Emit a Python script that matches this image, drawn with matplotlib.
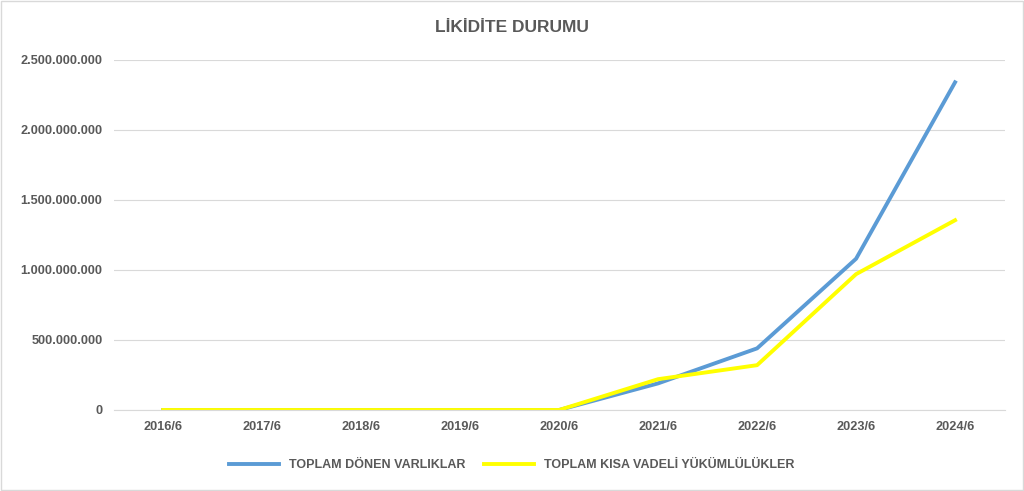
import matplotlib
matplotlib.use("Agg")
import matplotlib.pyplot as plt
from matplotlib.ticker import FuncFormatter

categories = ["2016/6","2017/6","2018/6","2019/6","2020/6","2021/6","2022/6","2023/6","2024/6"]
donen = [0,0,0,0,0,190e6,440e6,1080e6,2340e6]
kisa = [0,0,0,0,0,220e6,320e6,970e6,1355e6]

plt.rcParams['font.family'] = ['Liberation Sans','DejaVu Sans']
fig = plt.figure(figsize=(10.24,4.91), dpi=100)
ax = fig.add_axes([0.111,0.165,0.870,0.713])
x = range(len(categories))
ax.plot(x, donen, color="#5b9bd5", lw=2.8, label="TOPLAM DÖNEN VARLIKLAR")
ax.plot(x, kisa, color="#ffff00", lw=2.8, label="TOPLAM KISA VADELİ YÜKÜMLÜLÜKLER")
ax.set_xlim(-0.5, len(categories)-0.5)
ax.set_ylim(0, 2.5e9)
ax.set_yticks([i*5e8 for i in range(6)])
ax.yaxis.set_major_formatter(FuncFormatter(lambda v,p: f"{int(v):,}".replace(",", ".")))
ax.set_xticks(list(x))
ax.set_xticklabels(categories)
ax.grid(axis='y', color="#d9d9d9", lw=0.8)
ax.set_axisbelow(True)
for s in ["top","right","left"]:
    ax.spines[s].set_visible(False)
ax.spines["bottom"].set_color("#d9d9d9")
ax.tick_params(length=0, colors="#595959", labelsize=9.2, pad=8)
for t in ax.get_xticklabels()+ax.get_yticklabels():
    t.set_fontweight("bold")
fig.text(0.5, 0.943, "LİKİDİTE DURUMU", ha="center", va="center", fontsize=12.5, color="#595959", fontweight="bold")
leg = fig.legend(loc="center", bbox_to_anchor=(0.5,0.053), ncol=2, frameon=False, fontsize=9, handlelength=4, columnspacing=1.5)
for t in leg.get_texts():
    t.set_color("#595959"); t.set_fontweight("bold")
fig.patches.append(plt.Rectangle((0.001,0.002),0.998,0.996, transform=fig.transFigure, fill=False, ec="#d9d9d9", lw=1))
fig.savefig("out.png", dpi=100)
